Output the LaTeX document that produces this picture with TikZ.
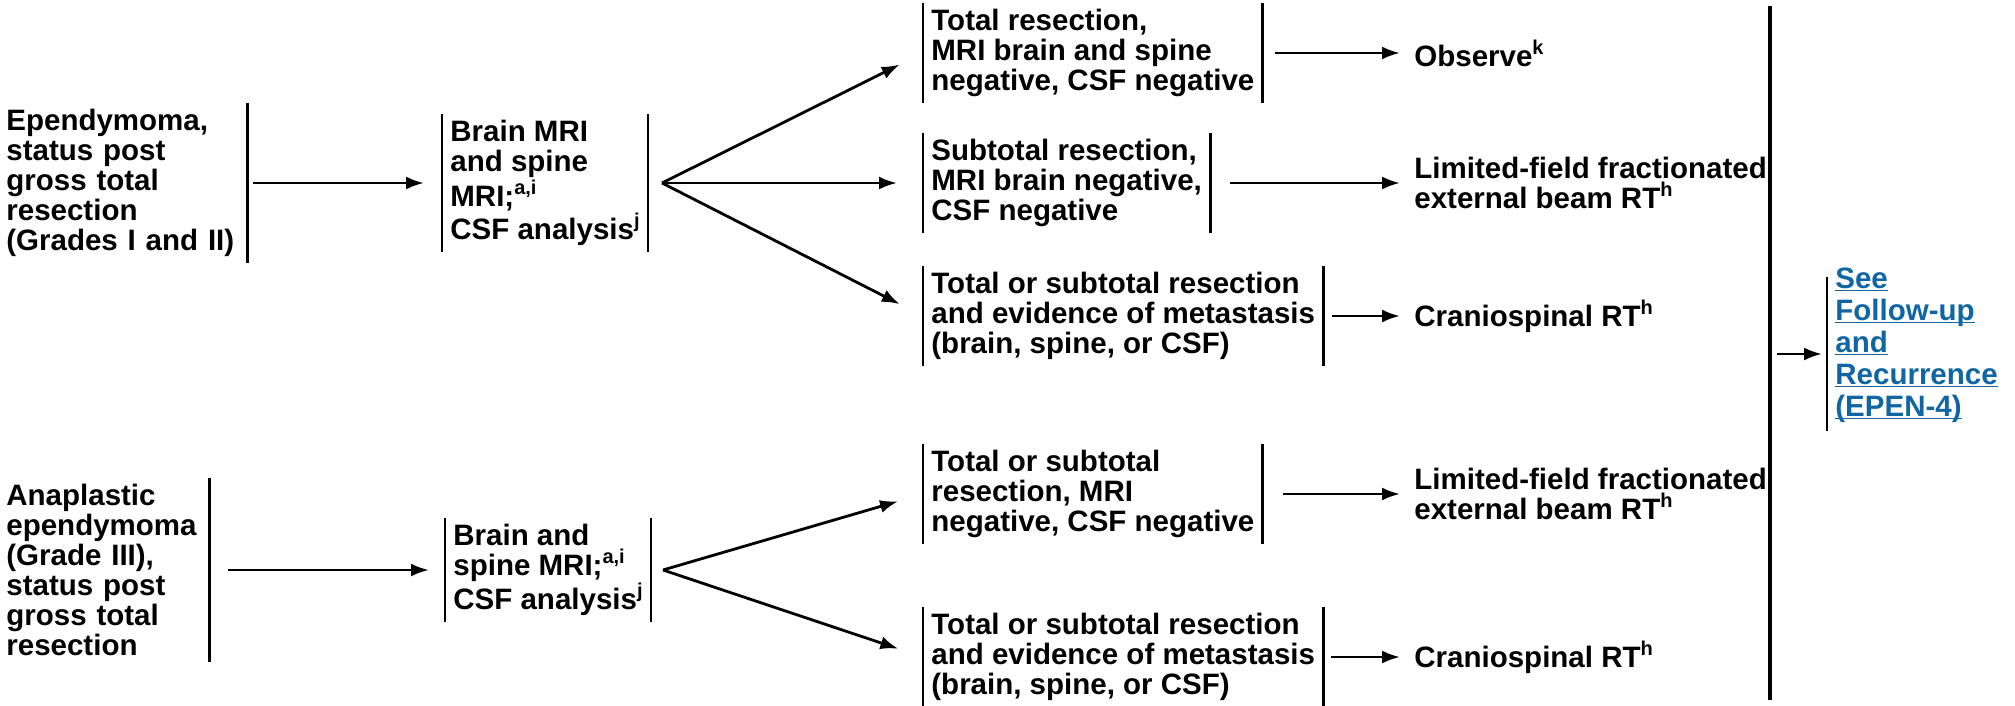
\documentclass[tikz,border=0pt]{standalone}
\usepackage{fontspec}
\setmainfont{Liberation Sans}
\usepackage{tikz}
\usetikzlibrary{arrows.meta}
\usepackage{xcolor}
\definecolor{linkblue}{RGB}{16,101,163}
\newcommand{\linkline}[1]{\underline{\smash{#1}}}
\newcommand{\sups}[1]{\raisebox{6pt}{\fontsize{10}{10}\selectfont #1}}

\begin{document}
\begin{tikzpicture}[x = 0.5pt, y = -0.5pt, >={Latex[length=9pt, width=6.5pt]}, line width = 1.4pt, font = \fontsize{14.75}{15}\selectfont\bfseries]
			\tikzstyle{cell} = [align=left, inner xsep=3.5pt, inner ysep=2.5pt, anchor=west]
			\tikzstyle{link} = [cell, text=linkblue, inner ysep=5pt, font=\fontsize{14.75}{16}\selectfont\bfseries]
			\useasboundingbox (0, 0) rectangle (2015, 706);

			% grades I and II
			\node[cell, text width=116.5pt]	at (-2, 183)	(ep)	{Ependymoma,\\status post\\gross total\\resection\\(Grades I and II)};
			\node[cell]	at (442, 183)	(mri1)	{Brain MRI\\and spine\\MRI;\sups{a,i}\\CSF analysis\sups{j}};
			\node[cell]	at (923, 53)	(tr)	{Total resection,\\MRI brain and spine\\negative, CSF negative};
			\node[cell]	at (923, 183)	(sub)	{Subtotal resection,\\MRI brain negative,\\CSF negative};
			\node[cell]	at (923, 316)	(met1)	{Total or subtotal resection\\and evidence of metastasis\\(brain, spine, or CSF)};
			\node[cell]	at (1406, 53)	(obs)	{Observe\sups{k}};
			\node[cell]	at (1406, 183)	(lim1)	{Limited-field fractionated\\external beam RT\sups{h}};
			\node[cell]	at (1406, 316)	(cr1)	{Craniospinal RT\sups{h}};

			% grade III
			\node[cell, text width=97.5pt]	at (-2, 570)	(ana)	{Anaplastic\\ependymoma\\(Grade III),\\status post\\gross total\\resection};
			\node[cell]	at (445, 570)	(mri2)	{Brain and\\spine MRI;\sups{a,i}\\CSF analysis\sups{j}};
			\node[cell]	at (923, 494)	(tsub)	{Total or subtotal\\resection, MRI\\negative, CSF negative};
			\node[cell]	at (923, 657)	(met2)	{Total or subtotal resection\\and evidence of metastasis\\(brain, spine, or CSF)};
			\node[cell]	at (1406, 494)	(lim2)	{Limited-field fractionated\\external beam RT\sups{h}};
			\node[cell]	at (1406, 657)	(cr2)	{Craniospinal RT\sups{h}};

			% follow-up
			\node[link]	at (1827, 354)	(see)	{\linkline{See}\\\linkline{Follow-up}\\\linkline{and}\\\linkline{Recurrence}\\\linkline{(EPEN-4)}};

			\coordinate (f1) at (662, 183);
			\coordinate (f2) at (663, 570);
			\coordinate (bt) at (1770, 6);
			\coordinate (bb) at (1770, 700);
			\coordinate (bm) at (1770, 354);

			% side bars
			\draw (ep.north east) -- (ep.south east)
				(ana.north east) -- (ana.south east)
				(see.north west) -- (see.south west);
			\draw (mri1.north west) -- (mri1.south west) (mri1.north east) -- (mri1.south east);
			\draw (mri2.north west) -- (mri2.south west) (mri2.north east) -- (mri2.south east);
			\draw (tr.north west) -- (tr.south west) (tr.north east) -- (tr.south east);
			\draw (sub.north west) -- (sub.south west) (sub.north east) -- (sub.south east);
			\draw (met1.north west) -- (met1.south west) (met1.north east) -- (met1.south east);
			\draw (tsub.north west) -- (tsub.south west) (tsub.north east) -- (tsub.south east);
			\draw (met2.north west) -- (met2.south west) (met2.north east) -- (met2.south east);
			\draw[line width = 1.8pt] (bt) -- (bb);

			\path[->]
			(ep)	edge	[shorten <= 2.5pt, shorten >= 9pt]	(mri1)
			(ana)	edge	[shorten <= 9pt, shorten >= 8pt]	(mri2)
			(f1)	edge	[shorten >= 13pt]	(tr.west)
			(f1)	edge	[shorten >= 13pt]	(sub.west)
			(f1)	edge	[shorten >= 13pt]	(met1.west)
			(f2)	edge	[shorten >= 13pt]	(tsub.west)
			(f2)	edge	[shorten >= 13pt]	(met2.west)
			(tr)	edge	[shorten <= 6pt, shorten >= 3pt]	(obs)
			(sub)	edge	[shorten <= 10pt, shorten >= 3pt]	(lim1)
			(met1)	edge	[shorten <= 4.5pt, shorten >= 3pt]	(cr1)
			(tsub)	edge	[shorten <= 10pt, shorten >= 3pt]	(lim2)
			(met2)	edge	[shorten <= 4pt, shorten >= 3pt]	(cr2)
			(bm)	edge	[shorten <= 3.5pt, shorten >= 2.5pt]	(see);
		\end{tikzpicture}
\end{document}
